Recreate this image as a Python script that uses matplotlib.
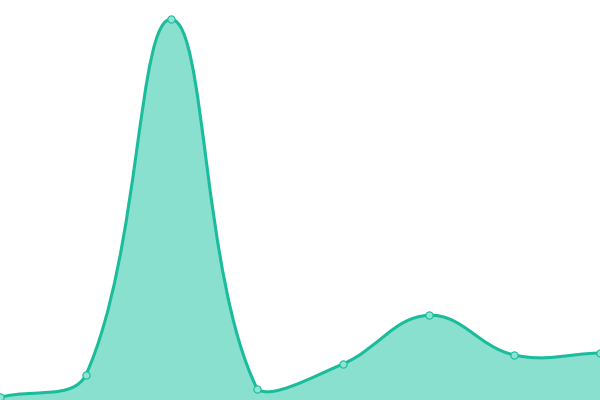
import numpy as np
import matplotlib
matplotlib.use("Agg")
import matplotlib.pyplot as plt
from matplotlib.path import Path
from matplotlib.patches import PathPatch

categories = ["A", "B", "C", "D", "E", "F", "G", "H"]
values = [2.7, 24.7, 380.7, 11.3, 36, 84.7, 45, 47]

line_color = "#1abc9c"
fill_color = "#89e0cf"
tension = 0.4

W, H = 600, 400
YMAX = 400
n = len(categories)
xmax = n - 1

fig = plt.figure(figsize=(6, 4), dpi=100)
ax = fig.add_axes([0, 0, 1, 1])
ax.set_xlim(0, xmax)
ax.set_ylim(0, YMAX)
ax.axis("off")

# spline control points computed in pixel space (like Chart.js), then back to data
sx = W / xmax
sy = H / YMAX
px = np.arange(n) * sx
py = np.asarray(values, float) * sy

cp_prev = []
cp_next = []
for i in range(n):
    pi = i - 1 if i > 0 else i
    ni = i + 1 if i < n - 1 else i
    d01 = np.hypot(px[i] - px[pi], py[i] - py[pi])
    d12 = np.hypot(px[ni] - px[i], py[ni] - py[i])
    tot = d01 + d12
    s01 = d01 / tot if tot else 0
    s12 = d12 / tot if tot else 0
    fa = tension * s01
    fb = tension * s12
    vx = px[ni] - px[pi]
    vy = py[ni] - py[pi]
    a = (np.clip(px[i] - fa * vx, 0, W), np.clip(py[i] - fa * vy, 0, H))
    b = (np.clip(px[i] + fb * vx, 0, W), np.clip(py[i] + fb * vy, 0, H))
    cp_prev.append((a[0] / sx, a[1] / sy))
    cp_next.append((b[0] / sx, b[1] / sy))

xs = np.arange(n, dtype=float)
ys = np.asarray(values, float)
verts = [(xs[0], ys[0])]
codes = [Path.MOVETO]
for i in range(n - 1):
    verts += [cp_next[i], cp_prev[i + 1], (xs[i + 1], ys[i + 1])]
    codes += [Path.CURVE4] * 3

line_path = Path(verts, codes)
fill_verts = verts + [(xs[-1], 0), (xs[0], 0), (xs[0], ys[0])]
fill_codes = codes + [Path.LINETO, Path.LINETO, Path.CLOSEPOLY]
fill_path = Path(fill_verts, fill_codes)

ax.add_patch(PathPatch(fill_path, facecolor=fill_color, edgecolor="none"))
ax.add_patch(PathPatch(line_path, facecolor="none", edgecolor=line_color,
                       linewidth=2.2, capstyle="round", joinstyle="round"))
ax.plot(xs, ys, linestyle="none", marker="o", markersize=5.2,
        markerfacecolor="#8fe3d2", markeredgecolor=line_color,
        markeredgewidth=0.8, clip_on=False)
fig.savefig("out.png", dpi=100)
